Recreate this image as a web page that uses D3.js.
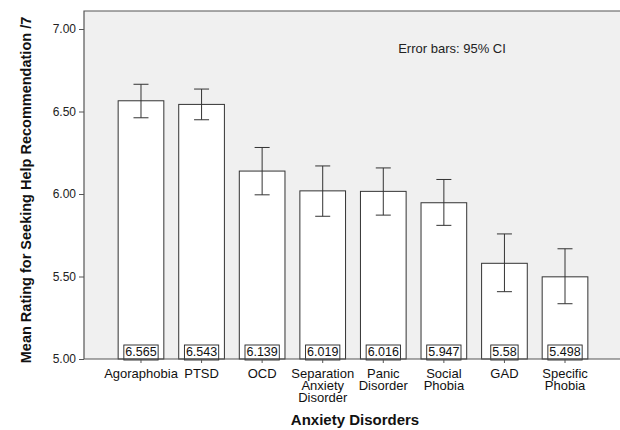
<!DOCTYPE html>
<html><head><meta charset="utf-8">
<script src="https://cdnjs.cloudflare.com/ajax/libs/d3/7.8.5/d3.min.js"></script>
<style>body{margin:0;background:#fff}svg{display:block}text{font-family:Arial,"Liberation Sans",sans-serif}</style>
</head><body><svg id="c" width="620" height="430"></svg>
<script>
const categories = [["Agoraphobia"],["PTSD"],["OCD"],["Separation","Anxiety","Disorder"],["Panic","Disorder"],["Social","Phobia"],["GAD"],["Specific","Phobia"]];
const means = [6.565, 6.543, 6.139, 6.019, 6.016, 5.947, 5.58, 5.498];
const ciLow = [6.462, 6.450, 5.995, 5.865, 5.872, 5.810, 5.408, 5.335];
const ciHigh = [6.665, 6.636, 6.282, 6.170, 6.158, 6.088, 5.758, 5.668];
const labels = ["6.565","6.543","6.139","6.019","6.016","5.947","5.58","5.498"];
const yTicks = [5.0, 5.5, 6.0, 6.5, 7.0];

const svg = d3.select("#c");
const frame = {l:84, t:11, r:620, b:359};
const y = d3.scaleLinear().domain([5, 7]).range([359, 29]);
const x = d3.scaleBand().domain(d3.range(means.length)).range([110.7, 595.3]).paddingInner(0.246).paddingOuter(0.123);

svg.append("rect").attr("x",frame.l).attr("y",frame.t).attr("width",frame.r-frame.l).attr("height",frame.b-frame.t).attr("fill","#f0f0f0");
svg.append("path").attr("d",`M${frame.r},${frame.t}H${frame.l}V${frame.b}`).attr("fill","none").attr("stroke","#555").attr("stroke-width",1.2);

const g = svg.append("g");
g.selectAll("rect.bar").data(means).join("rect").attr("class","bar")
  .attr("x",(d,i)=>x(i)).attr("width",x.bandwidth())
  .attr("y",d=>y(d)).attr("height",d=>y(5)-y(d))
  .attr("fill","#fff").attr("stroke","#333").attr("stroke-width",1);

const eb = g.selectAll("g.eb").data(means).join("g").attr("class","eb").attr("stroke","#333").attr("stroke-width",1);
eb.append("line").attr("x1",(d,i)=>x(i)+x.bandwidth()/2).attr("x2",(d,i)=>x(i)+x.bandwidth()/2).attr("y1",(d,i)=>y(ciLow[i])).attr("y2",(d,i)=>y(ciHigh[i]));
eb.append("line").attr("x1",(d,i)=>x(i)+x.bandwidth()/2-7.5).attr("x2",(d,i)=>x(i)+x.bandwidth()/2+7.5).attr("y1",(d,i)=>y(ciHigh[i])).attr("y2",(d,i)=>y(ciHigh[i]));
eb.append("line").attr("x1",(d,i)=>x(i)+x.bandwidth()/2-7.5).attr("x2",(d,i)=>x(i)+x.bandwidth()/2+7.5).attr("y1",(d,i)=>y(ciLow[i])).attr("y2",(d,i)=>y(ciLow[i]));

// value labels boxed
const vl = g.selectAll("g.vl").data(labels).join("g").attr("class","vl");
vl.each(function(d,i){
  const cx = x(i)+x.bandwidth()/2;
  const t = d3.select(this).append("text").attr("x",cx).attr("y",y(5)-3).attr("text-anchor","middle").attr("font-size",12.5).attr("fill","#111").text(d);
  const w = t.node().getComputedTextLength();
  d3.select(this).insert("rect","text").attr("x",cx-w/2-1.5).attr("y",y(5)-14).attr("width",w+3).attr("height",15).attr("fill","none").attr("stroke","#222").attr("stroke-width",0.9);
});

// y axis
const ya = svg.append("g").attr("transform",`translate(${frame.l},0)`).call(d3.axisLeft(y).tickValues(yTicks).tickFormat(d3.format(".2f")).tickSize(5).tickPadding(3));
ya.select(".domain").remove();
ya.selectAll("line").attr("stroke","#555");
ya.selectAll("text").attr("font-size",12).attr("fill","#222").attr("font-family","Arial,'Liberation Sans',sans-serif");

// x axis
svg.append("line").attr("x1",frame.l).attr("x2",frame.r).attr("y1",frame.b).attr("y2",frame.b).attr("stroke","#555").attr("stroke-width",1.2);
const xa = svg.append("g").attr("transform",`translate(0,${frame.b})`).call(d3.axisBottom(x).tickSize(4).tickFormat(""));
xa.select(".domain").remove();
xa.selectAll("line").attr("stroke","#555");
xa.selectAll(".tick").each(function(d){
  const t = d3.select(this).append("text").attr("text-anchor","middle").attr("font-size",13).attr("fill","#111").attr("font-family","Arial,'Liberation Sans',sans-serif");
  categories[d].forEach((s,k)=>t.append("tspan").attr("x",0).attr("y",19+k*12).text(s));
});

svg.append("text").attr("x",452).attr("y",53).attr("text-anchor","middle").attr("font-size",13).attr("fill","#222").text("Error bars: 95% CI");
svg.append("text").attr("x",355).attr("y",425).attr("text-anchor","middle").attr("font-size",15).attr("font-weight","bold").attr("fill","#111").text("Anxiety Disorders");
svg.append("text").attr("transform","translate(31,190) rotate(-90)").attr("text-anchor","middle").attr("font-size",14.5).attr("font-weight","bold").attr("fill","#111").text("Mean Rating for Seeking Help Recommendation /7");
</script></body></html>
